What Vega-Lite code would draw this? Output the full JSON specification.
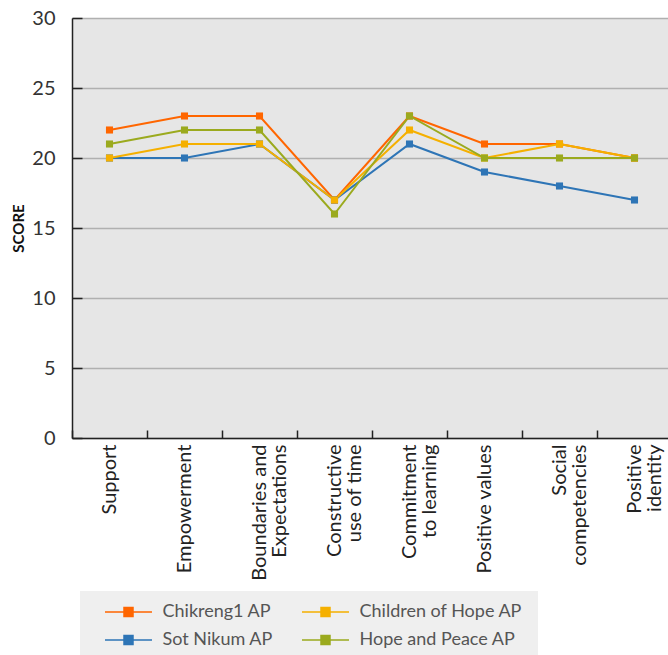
{
  "$schema": "https://vega.github.io/schema/vega-lite/v6.json",
  "width": 600,
  "height": 420,
  "autosize": {"type": "none"},
  "padding": {"left": 72, "top": 18, "right": -4, "bottom": 217},
  "background": "white",
  "config": {
    "view": {"fill": "#e6e6e6", "stroke": null},
    "font": "Lato"
  },
  "data": {
    "values": [
      {"site": "Chikreng1 AP", "asset": "Support", "score": 22},
      {"site": "Chikreng1 AP", "asset": "Empowerment", "score": 23},
      {"site": "Chikreng1 AP", "asset": "Boundaries and|Expectations", "score": 23},
      {"site": "Chikreng1 AP", "asset": "Constructive|use of time", "score": 17},
      {"site": "Chikreng1 AP", "asset": "Commitment|to learning", "score": 23},
      {"site": "Chikreng1 AP", "asset": "Positive values", "score": 21},
      {"site": "Chikreng1 AP", "asset": "Social|competencies", "score": 21},
      {"site": "Chikreng1 AP", "asset": "Positive|identity", "score": 20},
      {"site": "Sot Nikum AP", "asset": "Support", "score": 20},
      {"site": "Sot Nikum AP", "asset": "Empowerment", "score": 20},
      {"site": "Sot Nikum AP", "asset": "Boundaries and|Expectations", "score": 21},
      {"site": "Sot Nikum AP", "asset": "Constructive|use of time", "score": 17},
      {"site": "Sot Nikum AP", "asset": "Commitment|to learning", "score": 21},
      {"site": "Sot Nikum AP", "asset": "Positive values", "score": 19},
      {"site": "Sot Nikum AP", "asset": "Social|competencies", "score": 18},
      {"site": "Sot Nikum AP", "asset": "Positive|identity", "score": 17},
      {"site": "Children of Hope  AP", "asset": "Support", "score": 20},
      {"site": "Children of Hope  AP", "asset": "Empowerment", "score": 21},
      {"site": "Children of Hope  AP", "asset": "Boundaries and|Expectations", "score": 21},
      {"site": "Children of Hope  AP", "asset": "Constructive|use of time", "score": 17},
      {"site": "Children of Hope  AP", "asset": "Commitment|to learning", "score": 22},
      {"site": "Children of Hope  AP", "asset": "Positive values", "score": 20},
      {"site": "Children of Hope  AP", "asset": "Social|competencies", "score": 21},
      {"site": "Children of Hope  AP", "asset": "Positive|identity", "score": 20},
      {"site": "Hope and Peace AP", "asset": "Support", "score": 21},
      {"site": "Hope and Peace AP", "asset": "Empowerment", "score": 22},
      {"site": "Hope and Peace AP", "asset": "Boundaries and|Expectations", "score": 22},
      {"site": "Hope and Peace AP", "asset": "Constructive|use of time", "score": 16},
      {"site": "Hope and Peace AP", "asset": "Commitment|to learning", "score": 23},
      {"site": "Hope and Peace AP", "asset": "Positive values", "score": 20},
      {"site": "Hope and Peace AP", "asset": "Social|competencies", "score": 20},
      {"site": "Hope and Peace AP", "asset": "Positive|identity", "score": 20}
    ]
  },
  "mark": {
    "type": "line",
    "strokeWidth": 2,
    "point": {"shape": "square", "size": 50, "filled": true, "opacity": 1}
  },
  "encoding": {
    "x": {
      "field": "asset",
      "type": "nominal",
      "bandPosition": 0.5,
      "sort": ["Support", "Empowerment", "Boundaries and|Expectations", "Constructive|use of time", "Commitment|to learning", "Positive values", "Social|competencies", "Positive|identity"],
      "scale": {"type": "band", "paddingInner": 0, "paddingOuter": 0},
      "axis": {
        "title": null,
        "labelExpr": "split(datum.label, '|')",
        "labelAngle": 270,
        "labelAlign": "right",
        "labelBaseline": "middle",
        "labelFontSize": 20,
        "labelLineHeight": 20,
        "labelColor": "#222",
        "labelPadding": 14,
        "labelLimit": 200,
        "tickBand": "extent",
        "tickSize": -8,
        "tickColor": "#222",
        "tickWidth": 1.5,
        "domainColor": "#222",
        "domainWidth": 1.5,
        "grid": false
      }
    },
    "y": {
      "field": "score",
      "type": "quantitative",
      "scale": {"domain": [0, 30], "nice": false},
      "axis": {
        "title": "SCORE",
        "titleFontSize": 15,
        "titleFontWeight": "bold",
        "titleColor": "#111",
        "titlePadding": 5,
        "values": [0, 5, 10, 15, 20, 25, 30],
        "labelFontSize": 20,
        "labelColor": "#333",
        "labelPadding": 27,
        "tickSize": -10,
        "tickColor": "#222",
        "tickWidth": 1.5,
        "domainColor": "#222",
        "domainWidth": 1.5,
        "grid": true,
        "gridColor": "#b0b0b0",
        "gridWidth": 1.5
      }
    },
    "color": {
      "field": "site",
      "type": "nominal",
      "scale": {
        "domain": ["Chikreng1 AP", "Sot Nikum AP", "Children of Hope  AP", "Hope and Peace AP"],
        "range": ["#ff6600", "#2e75b6", "#f5b000", "#9baa1e"]
      },
      "legend": {
        "title": null,
        "orient": "none",
        "legendX": 8,
        "legendY": 573,
        "columns": 2,
        "fillColor": "#efefef",
        "padding": 11,
        "columnPadding": 15,
        "rowPadding": 9,
        "symbolType": "M-2.611,0H2.611M-0.5,-0.5H0.5V0.5H-0.5Z",
        "symbolSize": 324,
        "symbolOffset": 27.5,
        "symbolStrokeWidth": 1.5,
        "labelFontSize": 18,
        "labelColor": "#555",
        "labelOffset": 24,
        "labelLimit": 260,
        "encode": {
          "symbols": {"update": {"fill": {"scale": "color", "field": "value"}, "fillOpacity": {"value": 1}}}
        }
      }
    }
  }
}
